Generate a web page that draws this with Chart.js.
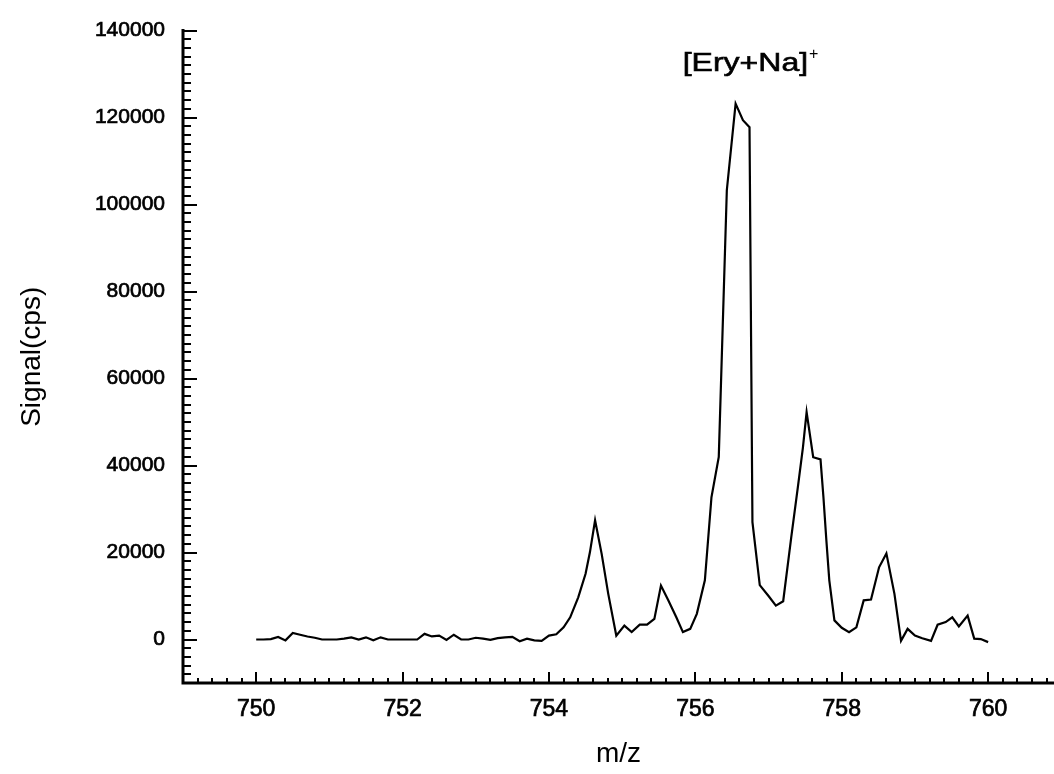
<!DOCTYPE html>
<html>
<head>
<meta charset="utf-8">
<title>Signal vs m/z</title>
<style>
  html, body { margin: 0; padding: 0; background: #ffffff; }
  #wrap { width: 1054px; height: 774px; position: relative; }
  canvas { display: block; }
</style>
<script src="https://cdn.jsdelivr.net/npm/chart.js@4.4.1/dist/chart.umd.min.js"></script>
</head>
<body>
<div id="wrap"><canvas id="spectrum" width="1054" height="774"></canvas></div>
<script>
// Mass spectrum around the sodiated erythromycin ion
const mz = [
  750.00, 750.10, 750.20, 750.30, 750.40, 750.50, 750.60, 750.70, 750.80, 750.90,
  751.00, 751.10, 751.20, 751.30, 751.40, 751.50, 751.60, 751.70, 751.80, 751.90,
  752.00, 752.10, 752.20, 752.30, 752.40, 752.50, 752.60, 752.70, 752.80, 752.90,
  753.00, 753.10, 753.20, 753.30, 753.40, 753.50, 753.60, 753.70, 753.80, 753.90,
  754.00, 754.10, 754.20, 754.29, 754.40, 754.50, 754.56, 754.63, 754.72, 754.81,
  754.92, 755.03, 755.13, 755.24, 755.34, 755.44, 755.53, 755.63, 755.74, 755.83,
  755.93, 756.02, 756.13, 756.22, 756.32, 756.43, 756.55, 756.65, 756.74, 756.78,
  756.88, 757.00, 757.10, 757.20, 757.31, 757.40, 757.47, 757.52, 757.61, 757.71,
  757.75, 757.79, 757.83, 757.90, 758.00, 758.10, 758.20, 758.30, 758.40, 758.51,
  758.61, 758.72, 758.81, 758.90, 759.00, 759.10, 759.22, 759.31, 759.42, 759.51,
  759.60, 759.72, 759.81, 759.90, 760.00
];
const signal = [
  0, 0, 100, 600, -200, 1500, 1100, 700, 400, 0,
  0, 0, 200, 500, 0, 500, -200, 500, 0, 0,
  0, 0, 0, 1300, 700, 900, -100, 1100, 0, 0,
  400, 200, -100, 300, 500, 600, -400, 200, -200, -300,
  900, 1200, 2800, 5100, 9700, 15100, 20100, 27400, 19700, 10500,
  900, 3200, 1700, 3400, 3400, 4750, 12400, 9000, 5100, 1700,
  2450, 5900, 13600, 32700, 42000, 103300, 123200, 119400, 117800, 27000,
  12500, 10000, 7800, 8800, 23500, 35000, 44200, 52300, 41900, 41400,
  32700, 22800, 13600, 4400, 2700, 1700, 2800, 9000, 9200, 16600,
  19800, 10500, -300, 2450, 900, 300, -300, 3400, 4000, 5100,
  3000, 5500, 200, 100, -600
];

const xTickValues = [750, 752, 754, 756, 758, 760];
const yTickValues = [0, 20000, 40000, 60000, 80000, 100000, 120000, 140000];

const xRange = [749, 760.9];
const yRange = [-10000, 140000];

// annotation anchored at the right end of its main text
const peakLabel = { text: '[Ery+Na]', sup: '+', x: 757.54, y: 130700 };

const FONT = '"Liberation Sans", Arial, Helvetica, sans-serif';

// Axis lines, inward-pointing tick marks and the peak annotation
const inwardTicks = {
  id: 'inwardTicks',
  afterDraw(chart) {
    const { ctx, chartArea: a, scales: { x, y } } = chart;
    ctx.save();
    ctx.strokeStyle = '#000';
    ctx.lineCap = 'butt';

    // ticks along m/z, every 0.2 with long marks on labelled values
    ctx.lineWidth = 2;
    ctx.beginPath();
    const kx0 = Math.ceil(xRange[0] * 5), kx1 = Math.floor(xRange[1] * 5);
    for (let k = kx0; k <= kx1; k++) {
      const px = Math.round(x.getPixelForValue(k / 5));
      if (px <= a.left + 2) continue;
      const len = (k % 10 === 0) ? 11 : 5;
      ctx.moveTo(px, a.bottom);
      ctx.lineTo(px, a.bottom - len);
    }
    // ticks along signal, every 2000 with long marks every 20000
    const ky0 = Math.ceil(yRange[0] / 2000), ky1 = Math.floor(yRange[1] / 2000);
    for (let k = ky0; k <= ky1; k++) {
      const py = Math.round(y.getPixelForValue(k * 2000));
      if (py >= a.bottom - 2) continue;
      const len = (k % 10 === 0) ? 14 : 8;
      ctx.moveTo(a.left, py);
      ctx.lineTo(a.left + len, py);
    }
    ctx.stroke();

    // axis frame (left and bottom)
    ctx.lineWidth = 3;
    ctx.lineCap = 'square';
    ctx.beginPath();
    ctx.moveTo(a.left, a.top);
    ctx.lineTo(a.left, a.bottom);
    ctx.lineTo(a.right, a.bottom);
    ctx.stroke();

    // peak annotation, set slightly wide
    const tx = x.getPixelForValue(peakLabel.x);
    const ty = y.getPixelForValue(peakLabel.y);
    ctx.fillStyle = '#000';
    ctx.lineWidth = 0.6;
    ctx.lineCap = 'butt';
    ctx.textBaseline = 'alphabetic';
    ctx.translate(tx, ty);
    ctx.save();
    ctx.scale(1.28, 1);
    ctx.font = '25px ' + FONT;
    ctx.textAlign = 'right';
    ctx.fillText(peakLabel.text, 0, 0);
    ctx.strokeText(peakLabel.text, 0, 0);
    ctx.restore();
    ctx.font = '16px ' + FONT;
    ctx.textAlign = 'left';
    ctx.fillText(peakLabel.sup, 1, -12);
    ctx.restore();
  }
};

const points = mz.map((v, i) => ({ x: v, y: signal[i] }));

new Chart(document.getElementById('spectrum'), {
  type: 'line',
  data: {
    datasets: [{
      data: points,
      borderColor: '#000',
      borderWidth: 2.2,
      pointRadius: 0,
      tension: 0,
      fill: false
    }]
  },
  options: {
    responsive: false,
    animation: false,
    devicePixelRatio: 1,
    layout: { padding: { top: 30, right: 0, bottom: 0, left: 0 } },
    plugins: { legend: { display: false }, tooltip: { enabled: false } },
    scales: {
      x: {
        type: 'linear',
        min: xRange[0],
        max: xRange[1],
        grid: { display: false, drawTicks: false },
        border: { display: false },
        afterBuildTicks: s => { s.ticks = xTickValues.map(v => ({ value: v })); },
        afterFit: s => { s.height = 91; },
        ticks: {
          color: '#000',
          padding: 13,
          maxRotation: 0,
          textStrokeColor: '#000',
          textStrokeWidth: 0.7,
          font: { family: FONT, size: 23 },
          callback: v => String(v)
        },
        title: {
          display: true,
          text: 'm/z',
          color: '#000',
          font: { family: FONT, size: 28 },
          padding: { top: 0, bottom: 3 }
        }
      },
      y: {
        type: 'linear',
        min: yRange[0],
        max: yRange[1],
        grid: { display: false, drawTicks: false },
        border: { display: false },
        afterBuildTicks: s => { s.ticks = yTickValues.map(v => ({ value: v })); },
        afterFit: s => { s.width = 183; },
        ticks: {
          color: '#000',
          padding: 18,
          textStrokeColor: '#000',
          textStrokeWidth: 0.7,
          font: { family: FONT, size: 21 },
          callback: v => String(v)
        },
        title: {
          display: true,
          text: 'Signal(cps)',
          color: '#000',
          font: { family: FONT, size: 28 },
          padding: { top: 15, bottom: 0 }
        }
      }
    }
  },
  plugins: [inwardTicks]
});
</script>
</body>
</html>
